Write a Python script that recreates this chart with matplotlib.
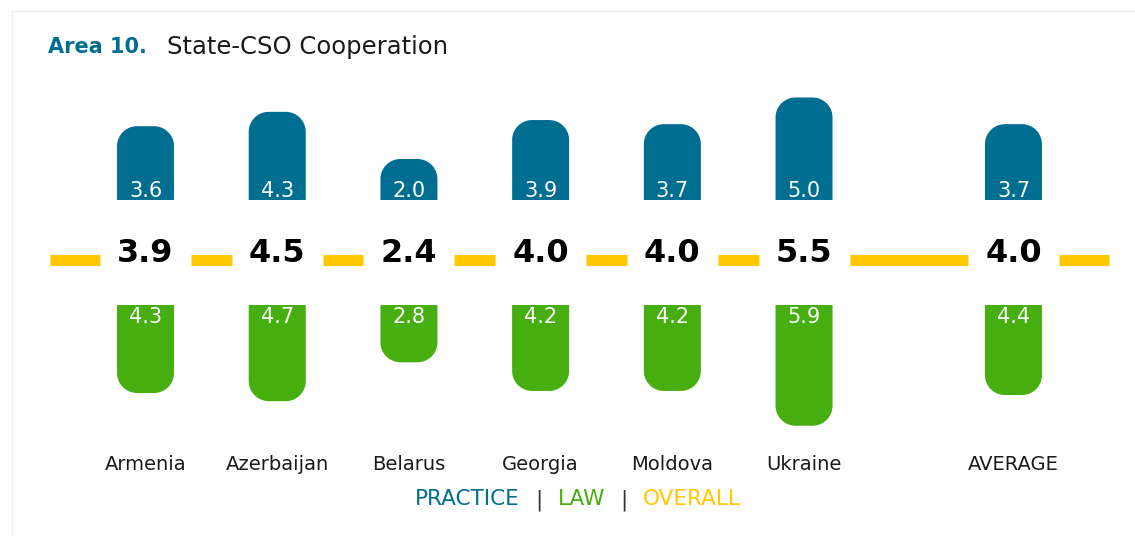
import numpy as np
import matplotlib.pyplot as plt
import matplotlib.transforms as mtransforms
from matplotlib.lines import Line2D
from matplotlib.offsetbox import TextArea, HPacker, AnchoredOffsetbox

# data
countries = ['Armenia', 'Azerbaijan', 'Belarus', 'Georgia', 'Moldova', 'Ukraine', 'AVERAGE']
practice = [3.6, 4.3, 2.0, 3.9, 3.7, 5.0, 3.7]
law = [4.3, 4.7, 2.8, 4.2, 4.2, 5.9, 4.4]
overall = [3.9, 4.5, 2.4, 4.0, 4.0, 5.5, 4.0]

TEAL = '#006e91'
GREEN = '#46ae0e'
YELLOW = '#ffc800'

W, H = 1135, 536
fig = plt.figure(figsize=(W / 100, H / 100), dpi=100)
fig.patch.set_facecolor('white')

# slot positions (average is set apart)
xpos = [0, 1, 2, 3, 4, 5, 6.59]
xl = (-1.105, 7.513)
px_x = W / (xl[1] - xl[0])
bar_w = 57 / px_x
r_px = 20


def rounded_bar(ax, x, h, w, px_y, color):
    rx = r_px / px_x
    ry = min(r_px / px_y, h)
    t1 = np.linspace(np.pi, np.pi / 2, 20)
    t2 = np.linspace(np.pi / 2, 0, 20)
    xs = np.concatenate([[x - w / 2], x - w / 2 + rx + rx * np.cos(t1),
                         x + w / 2 - rx + rx * np.cos(t2), [x + w / 2]])
    ys = np.concatenate([[0], h - ry + ry * np.sin(t1),
                         h - ry + ry * np.sin(t2), [0]])
    ax.fill(xs, ys, color=color, lw=0)


# practice (upwards)
ax_top = fig.add_axes([0, 1 - 200 / H, 1, 123 / H])
ax_top.set_xlim(xl)
ax_top.set_ylim(0, 6)
ax_top.axis('off')
for x, v in zip(xpos, practice):
    rounded_bar(ax_top, x, v, bar_w, 123 / 6, TEAL)
    ax_top.text(x, 0.17, f'{v:.1f}', color='white', fontsize=15,
                ha='center', va='baseline')

# law (downwards)
ax_bot = fig.add_axes([0, 1 - 438 / H, 1, 133 / H])
ax_bot.set_xlim(xl)
ax_bot.set_ylim(6.5, 0)
ax_bot.axis('off')
for x, v in zip(xpos, law):
    rounded_bar(ax_bot, x, v, bar_w, 133 / 6.5, GREEN)
    ax_bot.text(x, 0.1, f'{v:.1f}', color='white', fontsize=15,
                ha='center', va='top')

# overall line + labels
ax_mid = fig.add_axes([0, 1 - 310 / H, 1, 100 / H])
ax_mid.set_xlim(xl)
ax_mid.set_ylim(-1, 1)
ax_mid.axis('off')
gap = 45.5 / px_x
line_start, line_end = -0.725, 7.316
edges = [line_start] + [e for x in xpos for e in (x - gap, x + gap)] + [line_end]
for a, b in zip(edges[::2], edges[1::2]):
    ax_mid.plot([a, b], [0, 0], color=YELLOW, lw=8, solid_capstyle='butt')
for x, v in zip(xpos, overall):
    ax_mid.text(x, 0.12, f'{v:.1f}', fontsize=23, fontweight='bold',
                color='black', ha='center', va='center')

# country labels
trans = mtransforms.blended_transform_factory(ax_top.transData, fig.transFigure)
for x, c in zip(xpos, countries):
    fig.text(x, 1 - 464 / H, c, transform=trans, fontsize=14, color='#1a1a1a',
             ha='center', va='center')

# title
fig.text(48 / W, 1 - 47 / H, 'Area 10.', fontsize=15, fontweight='bold',
         color=TEAL, va='center', ha='left')
fig.text(167 / W, 1 - 47 / H, 'State-CSO Cooperation', fontsize=17.5,
         color='#1a1a1a', va='center', ha='left')

# legend
parts = [('PRACTICE', TEAL), ('|', '#333333'), ('LAW', GREEN),
         ('|', '#333333'), ('OVERALL', YELLOW)]
boxes = [TextArea(t, textprops=dict(color=c, fontsize=15.5)) for t, c in parts]
pack = HPacker(children=boxes, align='baseline', pad=0, sep=11)
leg = AnchoredOffsetbox(loc='center', child=pack, frameon=False,
                        bbox_to_anchor=(578 / W, 1 - 500 / H),
                        bbox_transform=fig.transFigure, borderpad=0)
fig.add_artist(leg)

# faint frame
fig.add_artist(Line2D([12 / W, 12 / W], [0, 1 - 11 / H], color='#eeeeee', lw=1))
fig.add_artist(Line2D([12 / W, 1], [1 - 11 / H, 1 - 11 / H], color='#eeeeee', lw=1))

fig.savefig('out.png', dpi=100)
